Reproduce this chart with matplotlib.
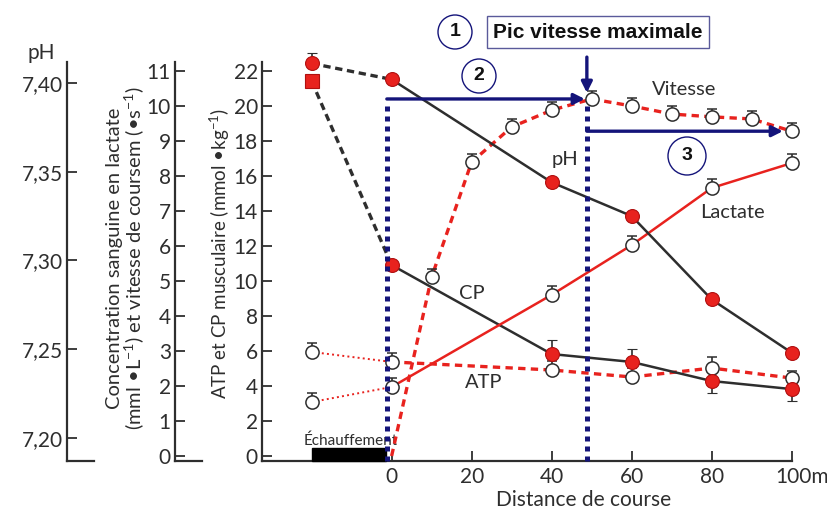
"""Sprint de 100 m : pH, lactate, vitesse, ATP et CP."""
import matplotlib
matplotlib.use("Agg")
from matplotlib import pyplot as plt
from matplotlib.lines import Line2D
from matplotlib.patches import Ellipse, Rectangle
from matplotlib.transforms import ScaledTranslation

plt.rcParams["font.family"] = ["Lato", "DejaVu Sans"]
plt.rcParams["mathtext.fontset"] = "custom"
plt.rcParams["mathtext.rm"] = "Lato"
plt.rcParams["mathtext.it"] = "Lato:italic"
plt.rcParams["mathtext.bf"] = "Lato:bold"

RED = "#e8221e"
INK = "#2e2e2e"
NAVY = "#14147a"

# distance (m) ; -20 = avant la course (échauffement)
pre = -20
dist = [0, 40, 60, 80, 100]
dist_speed = [0, 10, 20, 30, 40, 50, 60, 70, 80, 90, 100]

ph_pre = 7.411
ph = [7.402, 7.344, 7.325, 7.278, 7.248]
cp_pre = 21.4
cp = [10.9, 5.82, 5.37, 4.28, 3.82]
cp_err_low = [0, 0, 0, 0.68, 0.68]
cp_err_up = [0, 0.8, 0.75, 0, 0]
atp_pre = 5.94
atp = [5.37, 4.91, 4.51, 5.02, 4.45]
atp_err_up = [0.5, 0.5, 0.5, 0.63, 0.4]
lactate_pre = 1.54
lactate = [1.97, 4.6, 6.02, 7.65, 8.36]
speed = [0, 5.11, 8.39, 9.39, 9.87, 10.19, 9.99, 9.76, 9.68, 9.62, 9.27]

ph_ticks = [7.20, 7.25, 7.30, 7.35, 7.40]
x_ticks = [0, 20, 40, 60, 80, 100]
x_labels = ["0", "20", "40", "60", "80", "100m"]

W, H = 827, 520


def fx(px):
    return px / W


def fy(py):
    return 1 - py / H


def no_clip(container):
    """Let markers and caps spill over the axes frame."""
    for child in container.get_children():
        child.set_clip_on(False)


fig = plt.figure(figsize=(W / 100, H / 100), dpi=100)
ax = fig.add_axes([fx(262), fy(461), fx(791.7) - fx(262), fy(62) - fy(461)])
ax.set_xlim(-32.4, 100)
ax.set_ylim(-0.285, 22.49)

ax_lac = ax.twinx()
ax_lac.set_ylim(-0.1425, 11.245)
ax_ph = ax.twinx()
ax_ph.set_ylim(7.187, 7.4118)

# axes
for a in (ax, ax_lac, ax_ph):
    for side in ("top", "right"):
        a.spines[side].set_visible(False)
    a.spines["left"].set_linewidth(1.6)
    a.spines["left"].set_color(INK)
ax.spines["bottom"].set_linewidth(1.6)
ax.spines["bottom"].set_color(INK)
for a, pos in ((ax_lac, -0.1642), (ax_ph, -0.368)):
    a.spines["bottom"].set_visible(False)
    a.spines["left"].set_visible(True)
    a.spines["left"].set_position(("axes", pos))
    a.yaxis.set_ticks_position("left")
    fig.add_artist(Line2D([fx(262 + pos * 529.7), fx(262 + pos * 529.7 + 27)],
                          [fy(461), fy(461)], transform=fig.transFigure,
                          color=INK, lw=1.6))

ax.set_yticks(range(0, 23, 2))
ax_lac.set_yticks(range(0, 12))
ax_ph.set_yticks(ph_ticks)
ax_ph.set_yticklabels([f"{v:.2f}".replace(".", ",") for v in ph_ticks])
for a in (ax, ax_lac, ax_ph):
    a.tick_params(axis="y", direction="in", length=7, width=1.3, color=INK,
                  labelsize=15, labelcolor=INK, pad=3)
ax.set_xticks(x_ticks)
ax.set_xticklabels(x_labels)
ax.tick_params(axis="x", direction="in", length=7, width=1.3, color=INK,
               labelsize=15, labelcolor=INK, pad=4)
lab = ax.get_xticklabels()[-1]
lab.set_transform(lab.get_transform() + ScaledTranslation(0.1, 0, fig.dpi_scale_trans))

# échauffement
ax.add_patch(Rectangle((pre, -0.285), -pre - 1.5, 0.74, color="black",
                       clip_on=False, zorder=3))
ax.text(pre / 2 - 0.3, 0.85, "Échauffement", ha="center", va="center",
        size=11, color=INK)

open_kw = dict(fmt="o", ms=9.5, mfc="white", mec=INK, mew=1.1,
               ecolor=INK, elinewidth=1.2, capsize=3.5, capthick=1.4, zorder=4)
red_kw = dict(fmt="o", ms=10, mfc=RED, mec="#b01010", mew=0.8,
              ecolor=INK, elinewidth=1.2, capsize=3.5, capthick=1.4, zorder=5)

# ATP
ax.plot([pre, dist[0]], [atp_pre, atp[0]], ":", color=RED, lw=1.4)
ax.plot(dist, atp, color=RED, lw=2.4, dashes=(2.2, 1.6))
no_clip(ax.errorbar([pre] + dist, [atp_pre] + atp,
                    yerr=[[0] * 6, [0.5] + atp_err_up], **open_kw))

# CP
ax.plot([pre, dist[0]], [cp_pre, cp[0]], color=INK, lw=2.4, dashes=(2.2, 1.4))
ax.plot(dist, cp, color=INK, lw=1.8)
ax.plot([pre], [cp_pre], "s", ms=10, mfc=RED, mec="#b01010", mew=0.8, zorder=5)
no_clip(ax.errorbar(dist, cp, yerr=[cp_err_low, cp_err_up], **red_kw))

# lactate et vitesse
ax_lac.plot([pre, dist[0]], [lactate_pre, lactate[0]], ":", color=RED, lw=1.4)
ax_lac.plot(dist, lactate, color=RED, lw=1.8)
no_clip(ax_lac.errorbar([pre] + dist, [lactate_pre] + lactate,
                        yerr=[[0] * 6, [0.25] * 6], **open_kw))
ax_lac.plot(dist_speed, speed, color=RED, lw=2.4, dashes=(2.2, 1.6))
no_clip(ax_lac.errorbar(dist_speed[1:], speed[1:],
                        yerr=[[0] * 10, [0.23] * 10], **open_kw))

# pH
ax_ph.plot([pre, dist[0]], [ph_pre, ph[0]], color=INK, lw=2.4, dashes=(2.2, 1.4),
           clip_on=False)
ax_ph.plot(dist, ph, color=INK, lw=1.8)
no_clip(ax_ph.errorbar([pre], [ph_pre], yerr=[[0], [0.0056]], **red_kw))
ax_ph.plot(dist, ph, "o", ms=10, mfc=RED, mec="#b01010", mew=0.8, zorder=5,
           clip_on=False)

# étiquettes des courbes
for x, y, s in ((73.1, 20.9, "Vitesse"), (43.3, 16.9, "pH"), (85.1, 13.9, "Lactate"),
                (20.1, 9.25, "CP"), (23.1, 4.17, "ATP")):
    ax.text(x, y, s, ha="center", va="center", size=14.5, color=INK, zorder=6)

# annotations en bleu (échelle mmol = 2 x vitesse)
i_peak = speed.index(max(speed))
x_peak = dist_speed[i_peak] - 1.2
y_peak = 2 * speed[i_peak]
y_end = 2 * speed[-1]
arrow = dict(arrowstyle="-|>", lw=2.4, color=NAVY, mutation_scale=16,
             shrinkA=0, shrinkB=0)
top = ax_ph
tr = ax.transData
for xv in (-1.2, x_peak):
    top.plot([xv, xv], [-0.285, y_peak - 0.3], color=NAVY, lw=3.6,
             dashes=(1, 1), transform=tr, zorder=7, clip_on=False)
top.annotate("", xy=(x_peak - 0.5, y_peak), xytext=(-1.2, y_peak),
             xycoords=tr, textcoords=tr, arrowprops=arrow, zorder=7)
top.annotate("", xy=(97.8, y_end), xytext=(x_peak, y_end),
             xycoords=tr, textcoords=tr, arrowprops=arrow, zorder=7)
top.annotate("", xy=(x_peak, y_peak + 0.35), xytext=(x_peak, 22.77),
             xycoords=tr, textcoords=tr, arrowprops=arrow, zorder=7,
             annotation_clip=False)

for cx, cy, r, s in ((455, 32, 17, "1"), (479, 76, 17, "2"), (687, 156, 19, "3")):
    fig.add_artist(Ellipse((fx(cx), fy(cy)), 2 * r / W, 2 * r / H,
                           transform=fig.transFigure, fc="white", ec=NAVY, lw=1.0))
    fig.text(fx(cx), fy(cy), s, ha="center", va="center", size=14,
             weight="bold", family="Liberation Sans", color="#111111")

fig.text(fx(598), fy(32), "Pic vitesse maximale", ha="center", va="center",
         size=15, weight="bold", family="Liberation Sans", color="#111111",
         bbox=dict(boxstyle="square,pad=0.3", fc="white", ec="#5a5a9a", lw=1.0))

# titres des axes
fig.text(fx(41), fy(53), "pH", ha="center", va="center", size=15, color=INK)
fig.text(fx(126), fy(258),
         "Concentration sanguine en lactate\n(mml •L$^{-1}$) et vitesse de coursem (•s$^{-1}$)",
         rotation=90, ha="center", va="center", size=14.5, color=INK,
         linespacing=0.95)
fig.text(fx(220), fy(253), "ATP et CP musculaire (mmol •kg$^{-1}$)",
         rotation=90, ha="center", va="center", size=13.5, color=INK)
fig.text(fx(584), fy(500), "Distance de course", ha="center", va="center",
         size=15, color=INK)

fig.savefig("out.png", dpi=100)
